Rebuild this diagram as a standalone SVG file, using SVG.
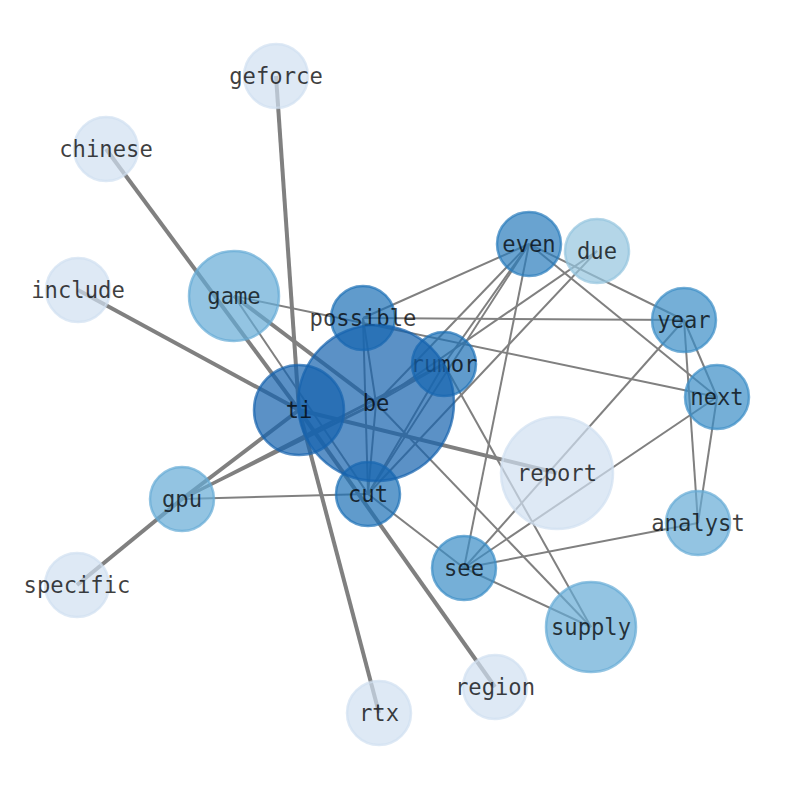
<svg xmlns="http://www.w3.org/2000/svg" width="794" height="790" viewBox="0 0 794 790">
<style>
.e{stroke:#808080;fill:none;stroke-linecap:butt}
.t1{stroke-width:2}
.t2{stroke-width:3}
.t3{stroke-width:4}
circle{stroke-width:2.5;fill-opacity:0.7;stroke-opacity:0.7}
.c0{fill:#d0e0f1;stroke:#d0e0f1}
.c1{fill:#94c4de;stroke:#94c4de}
.c2{fill:#65abd6;stroke:#65abd6}
.c3{fill:#3b8dc6;stroke:#3b8dc6}
.c4{fill:#2a7cbc;stroke:#2a7cbc}
.c5{fill:#1c70b6;stroke:#1c70b6}
.c6{fill:#1562ae;stroke:#1562ae}
text{font-family:"DejaVu Sans Mono","Liberation Mono",monospace;font-size:22.2px;fill:#000;fill-opacity:0.75;text-anchor:middle;dominant-baseline:central}
</style>
<rect width="794" height="790" fill="#ffffff"/>
<g id="edges">
<path class="e t3" d="M276,76L299,410"/>
<path class="e t3" d="M106,149L299,410"/>
<path class="e t3" d="M78,290L299,410"/>
<path class="e t3" d="M234,296L376,403"/>
<path class="e t3" d="M299,410L557,473"/>
<path class="e t3" d="M77,585L182,499"/>
<path class="e t3" d="M182,499L299,410"/>
<path class="e t3" d="M299,410L379,713"/>
<path class="e t3" d="M299,410L495,687"/>
<path class="e t2" d="M182,499L376,403"/>
<path class="e t2" d="M182,499L444,364"/>
<path class="e t1" d="M234,296L717,397"/>
<path class="e t1" d="M234,296L368,494"/>
<path class="e t1" d="M376,403L591,627"/>
<path class="e t1" d="M363,318L529,244"/>
<path class="e t1" d="M363,318L684,320"/>
<path class="e t1" d="M363,318L376,403"/>
<path class="e t1" d="M363,318L368,494"/>
<path class="e t1" d="M444,364L529,244"/>
<path class="e t1" d="M444,364L376,403"/>
<path class="e t1" d="M444,364L368,494"/>
<path class="e t1" d="M444,364L591,627"/>
<path class="e t1" d="M529,244L376,403"/>
<path class="e t1" d="M529,244L368,494"/>
<path class="e t1" d="M529,244L464,568"/>
<path class="e t1" d="M529,244L684,320"/>
<path class="e t1" d="M529,244L717,397"/>
<path class="e t1" d="M597,251L376,403"/>
<path class="e t1" d="M597,251L368,494"/>
<path class="e t1" d="M684,320L717,397"/>
<path class="e t1" d="M684,320L698,523"/>
<path class="e t1" d="M684,320L464,568"/>
<path class="e t1" d="M717,397L698,523"/>
<path class="e t1" d="M717,397L464,568"/>
<path class="e t1" d="M464,568L698,523"/>
<path class="e t1" d="M464,568L368,494"/>
<path class="e t1" d="M464,568L591,627"/>
<path class="e t1" d="M368,494L182,499"/>
<path class="e t1" d="M368,494L376,403"/>
</g>
<g id="geforce"><circle class="c0" cx="276" cy="76" r="32"/><text x="276" y="76">geforce</text></g>
<g id="chinese"><circle class="c0" cx="106" cy="149" r="32"/><text x="106" y="149">chinese</text></g>
<g id="include"><circle class="c0" cx="78" cy="290" r="32"/><text x="78" y="290">include</text></g>
<g id="specific"><circle class="c0" cx="77" cy="585" r="32"/><text x="77" y="585">specific</text></g>
<g id="region"><circle class="c0" cx="495" cy="687" r="32"/><text x="495" y="687">region</text></g>
<g id="rtx"><circle class="c0" cx="379" cy="713" r="32"/><text x="379" y="713">rtx</text></g>
<g id="report"><circle class="c0" cx="557" cy="473" r="56"/><text x="557" y="473">report</text></g>
<g id="due"><circle class="c1" cx="597" cy="251" r="32"/><text x="597" y="251">due</text></g>
<g id="game"><circle class="c2" cx="234" cy="296" r="45"/><text x="234" y="296">game</text></g>
<g id="supply"><circle class="c2" cx="591" cy="627" r="45"/><text x="591" y="627">supply</text></g>
<g id="gpu"><circle class="c2" cx="182" cy="499" r="32"/><text x="182" y="499">gpu</text></g>
<g id="analyst"><circle class="c2" cx="698" cy="523" r="32"/><text x="698" y="523">analyst</text></g>
<g id="see"><circle class="c3" cx="464" cy="568" r="32"/><text x="464" y="568">see</text></g>
<g id="year"><circle class="c3" cx="684" cy="320" r="32"/><text x="684" y="320">year</text></g>
<g id="next"><circle class="c3" cx="717" cy="397" r="32"/><text x="717" y="397">next</text></g>
<g id="even"><circle class="c4" cx="529" cy="244" r="32"/><text x="529" y="244">even</text></g>
<g id="possible"><circle class="c5" cx="363" cy="318" r="32"/><text x="363" y="318">possible</text></g>
<g id="rumor"><circle class="c5" cx="444" cy="364" r="32"/><text x="444" y="364">rumor</text></g>
<g id="cut"><circle class="c5" cx="368" cy="494" r="32"/><text x="368" y="494">cut</text></g>
<g id="be"><circle class="c6" cx="376" cy="403" r="78"/><text x="376" y="403">be</text></g>
<g id="ti"><circle class="c6" cx="299" cy="410" r="45"/><text x="299" y="410">ti</text></g>
</svg>
